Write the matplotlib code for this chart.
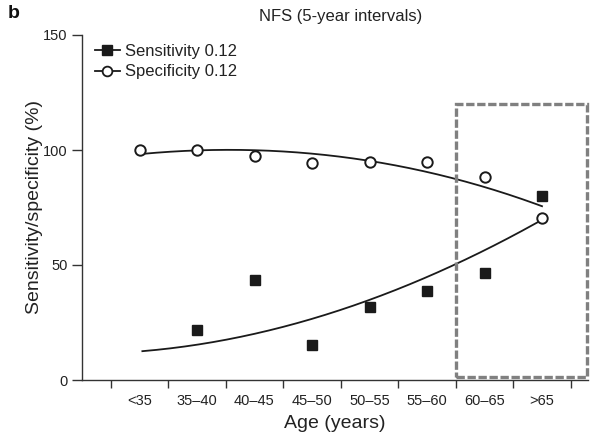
import numpy as np
import matplotlib.pyplot as plt
from matplotlib.lines import Line2D
from matplotlib.patches import Rectangle

plt.rcParams['font.family'] = ['Liberation Sans', 'DejaVu Sans']

ages = ["<35", "35–40", "40–45", "45–50", "50–55", "55–60", "60–65", ">65"]

# observed points (NaN = no point drawn)
sensitivity = [np.nan, 21.7, 43.5, 15.2, 31.6, 38.8, 46.7, 80.0]
specificity = [100.0, 100.0, 97.4, 94.3, 94.9, 95.0, 88.1, 70.3]

# trend curves at each category centre
sens_trend = [12.3, 15.5, 20.3, 26.4, 34.8, 44.2, 57.3, 69.3]
spec_trend = [98.1, 100.0, 100.0, 98.1, 95.0, 91.3, 83.3, 75.7]

x = np.arange(len(ages))

fig = plt.figure(figsize=(5.9, 4.33), dpi=100)
ax = fig.add_axes([82 / 590, 53 / 433, 506 / 590, 345 / 433])

# smooth trend lines
xs = np.linspace(0.05, 7, 200)
for trend in (sens_trend, spec_trend):
    coef = np.polyfit(x, trend, 3)
    ax.plot(xs, np.polyval(coef, xs), color='#1a1a1a', lw=1.3, zorder=2)

ax.plot(x, sensitivity, 's', color='#1a1a1a', ms=7.5, ls='none', zorder=3)
ax.plot(x, specificity, 'o', mfc='white', mec='#1a1a1a', mew=1.4, ms=7.5,
        ls='none', zorder=3)

# highlighted age groups
ax.add_patch(Rectangle((5.5, 1.3), 2.28, 118.7, fill=False, ec='#808080',
                       lw=2.4, ls=(0, (2.5, 0.8)), zorder=4, clip_on=False))

ax.set_xlim(-1, 7.8)
ax.set_ylim(0, 150)
ax.set_yticks([0, 50, 100, 150])
ax.set_xticks(np.arange(-0.5, 8, 1))
ax.set_xticklabels([])
ax.set_xticks(x, minor=True)
ax.set_xticklabels(ages, minor=True)
ax.tick_params(axis='x', which='major', length=6, width=1, direction='out',
               color='#333333')
ax.tick_params(axis='x', which='minor', length=0, pad=10, labelsize=10.5,
               labelcolor='#222222')
ax.tick_params(axis='y', length=7, width=1, direction='out', labelsize=10.5,
               color='#333333', labelcolor='#222222')

for s in ('top', 'right'):
    ax.spines[s].set_visible(False)
for s in ('left', 'bottom'):
    ax.spines[s].set_color('#333333')
    ax.spines[s].set_linewidth(1)

ax.set_xlabel("Age (years)", fontsize=14, color='#222222', labelpad=5)
ax.set_ylabel("Sensitivity/specificity (%)", fontsize=14, color='#222222',
              labelpad=0)

handles = [
    Line2D([], [], color='#1a1a1a', lw=1.3, marker='s', ms=7),
    Line2D([], [], color='#1a1a1a', lw=1.3, marker='o', mfc='white', mew=1.3,
           ms=7),
]
ax.legend(handles, ["Sensitivity 0.12", "Specificity 0.12"], loc='upper left',
          bbox_to_anchor=(0.025, 0.975), frameon=False, fontsize=12,
          handlelength=1.5, handletextpad=0.3, labelspacing=0.35,
          borderpad=0, borderaxespad=0, labelcolor='#222222')

fig.text(341 / 590, 1 - 17 / 433, "NFS (5-year intervals)", fontsize=12,
         ha='center', va='center', color='#222222')
fig.text(8 / 590, 1 - 14 / 433, "b", fontsize=14, fontweight='bold',
         ha='left', va='center', color='#111111')

fig.savefig("out.png", dpi=100)
